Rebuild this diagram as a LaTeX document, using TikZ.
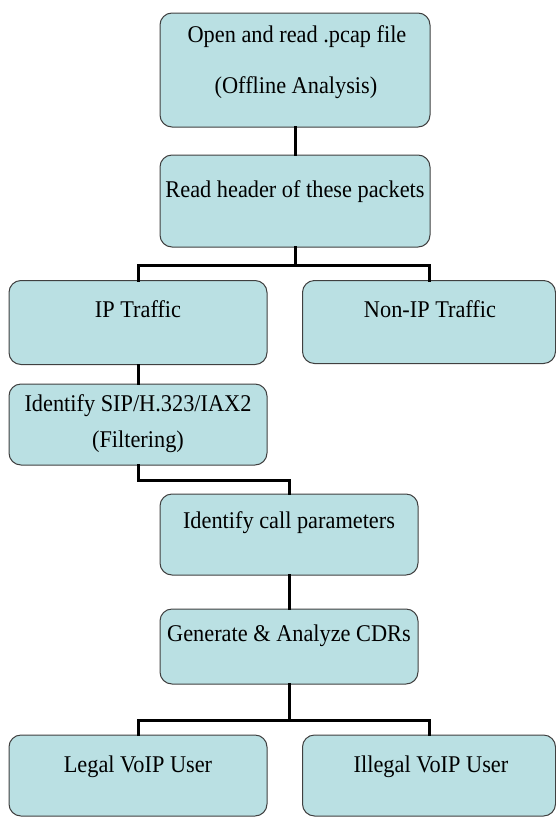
\documentclass[tikz,border=0pt]{standalone}
\usepackage{fontspec}
\setmainfont{Liberation Serif}[FakeStretch=0.93]
\definecolor{boxfill}{RGB}{186,224,227}
\definecolor{boxline}{RGB}{64,64,64}
\begin{document}
\begin{tikzpicture}[x=1pt,y=1pt,
    box/.style={draw=boxline, fill=boxfill, line width=1pt, rounded corners=12pt, inner sep=0pt},
    txt/.style={anchor=base, inner sep=0pt, font=\fontsize{24}{28}\selectfont},
    link/.style={line width=3pt, line cap=rect}]
        \useasboundingbox (0,0) rectangle (555,-817);
        \node [box, minimum width=270, minimum height=114] (open) at (295,-70) {};
        \node [box, minimum width=270, minimum height=92] (head) at (295,-201) {};
        \node [box, minimum width=258, minimum height=84] (ip) at (138,-322.5) {};
        \node [box, minimum width=253, minimum height=83] (nonip) at (429,-322) {};
        \node [box, minimum width=258, minimum height=81] (sip) at (138,-424.5) {};
        \node [box, minimum width=258, minimum height=81] (call) at (289,-534.5) {};
        \node [box, minimum width=258, minimum height=75] (gen) at (289,-646.5) {};
        \node [box, minimum width=258, minimum height=81] (legal) at (138,-775.5) {};
        \node [box, minimum width=253, minimum height=81] (illegal) at (429,-775.5) {};
        \node [txt] (open-a) at (297,-42) {Open and read .pcap file};
        \node [txt] (open-b) at (296,-93) {(Offline Analysis)};
        \node [txt] (head-a) at (295,-197) {Read header of these packets};
        \node [txt] (ip-a) at (138,-317) {IP Traffic};
        \node [txt] (nonip-a) at (430,-317) {Non-IP Traffic};
        \node [txt] (sip-a) at (138,-411) {Identify SIP/H.323/IAX2};
        \node [txt] (sip-b) at (138,-447) {(Filtering)};
        \node [txt] (call-a) at (289,-528) {Identify call parameters};
        \node [txt] (gen-a) at (289,-641) {Generate \& Analyze CDRs};
        \node [txt] (legal-a) at (138,-772) {Legal VoIP User};
        \node [txt] (illegal-a) at (431,-772) {Illegal VoIP User};
        \draw [link] (open.south) -- (head.north);
        \draw [link] (head.south) -- ++(0,-18) -| (ip.north);
        \draw [link] (head.south) -- ++(0,-18) -| (nonip.north);
        \draw [link] (ip.south) -- (sip.north);
        \draw [link] (sip.south) -- ++(0,-15) -| (call.north);
        \draw [link] (call.south) -- (gen.north);
        \draw [link] (gen.south) -- ++(0,-36) -| (legal.north);
        \draw [link] (gen.south) -- ++(0,-36) -| (illegal.north);
\end{tikzpicture}
\end{document}
